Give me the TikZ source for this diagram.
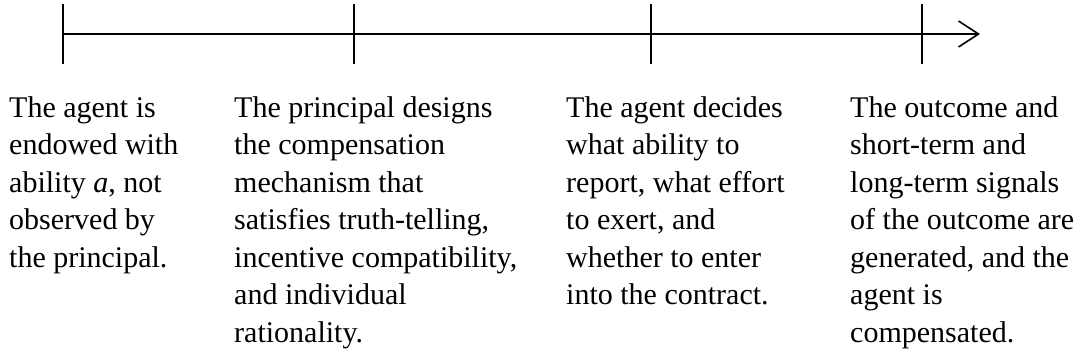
\documentclass[tikz,border=0pt]{standalone}
\usepackage{fontspec}
\setmainfont{Liberation Serif}
\usetikzlibrary{arrows.meta}
\begin{document}
\begin{tikzpicture}[x=1pt,y=-1pt,
  axis/.style={line width=1.6pt, -{Straight Barb[length=20pt,width=26pt]}},
  tick/.style={line width=1.3pt},
  stage/.style={anchor=north west, inner sep=0pt, align=left,
    font=\fontsize{30}{37.5}\selectfont}]
  \useasboundingbox (0,0) rectangle (1082,364);
  % time axis
  \coordinate (start) at (63,34);
  \coordinate (stop) at (980,34);
  \draw[axis] (start) -- (stop);
  % stage markers
  \foreach \x/\n in {63/t1,354/t2,651/t3,922/t4}{
    \coordinate (\n-top) at (\x,4);
    \coordinate (\n-bot) at (\x,64);
    \draw[tick] (\n-top) -- (\n-bot);
  }
  % stage descriptions
  \node[stage] (s1) at (9,96) {The agent is\\endowed with\\ability \textit{a}, not\\observed by\\the principal.};
  \node[stage] (s2) at (234,96) {The principal designs\\the compensation\\mechanism that\\satisfies truth-telling,\\incentive compatibility,\\and individual\\rationality.};
  \node[stage] (s3) at (566,96) {The agent decides\\what ability to\\report, what effort\\to exert, and\\whether to enter\\into the contract.};
  \node[stage] (s4) at (850,96) {The outcome and\\short-term and\\long-term signals\\of the outcome are\\generated, and the\\agent is\\compensated.};
\end{tikzpicture}
\end{document}
